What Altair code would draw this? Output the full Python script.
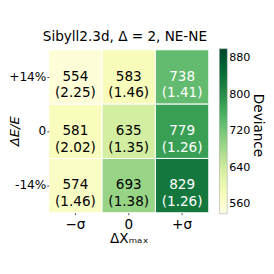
import altair as alt
import pandas as pd

x_cats = ["−σ", "0", "+σ"]
y_cats = ["+14%", "0", "-14%"]
deviance = [
    [554, 583, 738],
    [581, 635, 779],
    [574, 693, 829],
]
ratio = [
    ["2.25", "1.46", "1.41"],
    ["2.02", "1.35", "1.26"],
    ["1.46", "1.38", "1.26"],
]
legend_ticks = [560, 640, 720, 800, 880]
legend_title = "Deviance"
y_title = "ΔE/E"
ylgn = ["#ffffe5", "#f7fcb9", "#d9f0a3", "#addd8e", "#78c679",
        "#41ab5d", "#238443", "#006837", "#004529"]
vmin, vmax = 540, 900

rows = []
for i, yc in enumerate(y_cats):
    for j, xc in enumerate(x_cats):
        rows.append({"dx": xc, "de": yc, "dev": deviance[i][j],
                     "label": f"{deviance[i][j]}\n({ratio[i][j]})"})
df = pd.DataFrame(rows)

FONT = "DejaVu Sans"
n = len(ylgn)
cdomain = [vmin + (vmax - vmin) * k / (n - 1) for k in range(n)]

base = alt.Chart(df).encode(
    x=alt.X("dx:N", sort=x_cats, title="ΔXₘₐₓ",
            axis=alt.Axis(labelAngle=0, labelFontSize=14, titleFontSize=14,
                          titleFontWeight="normal", domain=False, tickSize=2,
                          tickColor="#444", labelPadding=3, titlePadding=1,
                          labelColor="black", titleColor="black")),
    y=alt.Y("de:N", sort=y_cats, title=None,
            axis=alt.Axis(labelFontSize=12.5, domain=False, tickSize=2,
                          tickColor="#444", labelPadding=1,
                          labelColor="black")),
)

rect = base.mark_rect(stroke="white", strokeWidth=1).encode(
    color=alt.Color("dev:Q",
                    scale=alt.Scale(domain=cdomain, range=ylgn, interpolate="rgb"),
                    legend=alt.Legend(title=None, orient="none", legendX=176, legendY=-1,
                                      direction="vertical", gradientLength=170,
                                      gradientThickness=8, values=legend_ticks,
                                      labelFontSize=11.5,
                                      gradientStrokeColor="#999", gradientStrokeWidth=0.5,
                                      labelColor="black", labelOffset=2)),
)

text = base.mark_text(lineBreak="\n", fontSize=14, lineHeight=17, font=FONT).encode(
    text="label:N",
    color=alt.condition("datum.dev > 715", alt.value("white"), alt.value("black")),
)

ltitle = alt.Chart(pd.DataFrame({"t": [legend_title]})).mark_text(
    angle=90, fontSize=14, font=FONT, color="black", align="center", baseline="middle"
).encode(x=alt.value(216), y=alt.value(78), text="t:N")

ytitle = alt.Chart(pd.DataFrame({"t": [y_title]})).mark_text(
    angle=270, fontSize=13.5, font=FONT, fontStyle="italic", color="black",
    align="center", baseline="middle"
).encode(x=alt.value(-35), y=alt.value(84), text="t:N")

chart = (rect + text + ltitle + ytitle).properties(
    width=165, height=168,
    title=alt.TitleParams("Sibyll2.3d, Δ = 2, NE-NE", fontSize=14, fontWeight="normal",
                          font=FONT, color="black", offset=5, anchor="middle", dx=-4),
    autosize=alt.AutoSizeParams(type="none"),
    padding={"left": 42, "top": 39, "right": 59, "bottom": 59},
).configure(font=FONT).configure_view(stroke=None)

chart.save("out.html", embed_options={"renderer": "svg", "actions": False})
